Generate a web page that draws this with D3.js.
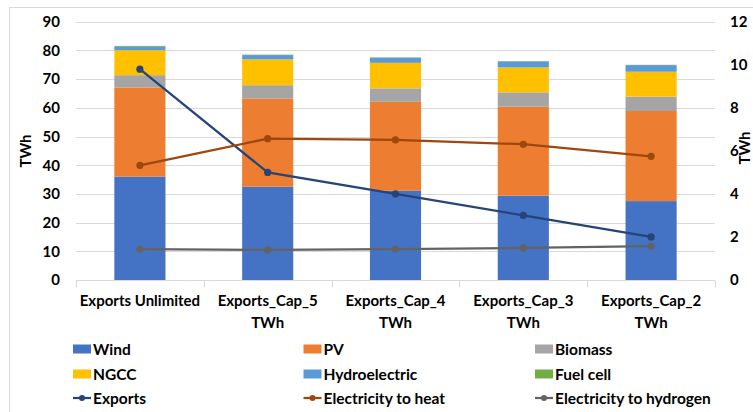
<!DOCTYPE html>
<html>
<head>
<meta charset="utf-8">
<script src="https://cdn.jsdelivr.net/npm/d3@7"></script>
<style>
  html, body { margin: 0; padding: 0; background: #fff; }
  svg { display: block; }
  text { font-family: Lato, "Open Sans", sans-serif; font-weight: bold; fill: #000; }
</style>
</head>
<body>
<svg id="chart" width="753" height="412"></svg>
<script>
// ---- Data ----
const categories = ["Exports Unlimited", "Exports_Cap_5 TWh", "Exports_Cap_4 TWh", "Exports_Cap_3 TWh", "Exports_Cap_2 TWh"];
const categoryLines = [["Exports Unlimited"], ["Exports_Cap_5", "TWh"], ["Exports_Cap_4", "TWh"], ["Exports_Cap_3", "TWh"], ["Exports_Cap_2", "TWh"]];

const wind = [36.0, 32.5, 31.1, 29.4, 27.5];
const pv = [31.1, 30.8, 31.0, 31.0, 31.4];
const biomass = [4.3, 4.6, 4.7, 5.0, 5.0];
const ngcc = [8.7, 9.0, 8.9, 8.7, 8.7];
const hydroelectric = [1.2, 1.5, 1.8, 2.1, 2.3];
const fuelCell = [0.3, 0.15, 0.1, 0.1, 0.1];

const exportsLine = [9.8, 5.0, 4.0, 3.0, 2.0];
const elecToHeat = [5.33, 6.57, 6.51, 6.31, 5.75];
const elecToHydrogen = [1.43, 1.40, 1.44, 1.49, 1.58];

const leftTicks = [0, 10, 20, 30, 40, 50, 60, 70, 80, 90];
const rightTicks = [0, 2, 4, 6, 8, 10, 12];

const barSeries = [
  { name: "Wind", values: wind, color: "#4472C4" },
  { name: "PV", values: pv, color: "#ED7D31" },
  { name: "Biomass", values: biomass, color: "#A5A5A5" },
  { name: "NGCC", values: ngcc, color: "#FFC000" },
  { name: "Hydroelectric", values: hydroelectric, color: "#5B9BD5" },
  { name: "Fuel cell", values: fuelCell, color: "#70AD47" }
];
const lineSeries = [
  { name: "Exports", values: exportsLine, color: "#264478" },
  { name: "Electricity to heat", values: elecToHeat, color: "#9E480E" },
  { name: "Electricity to hydrogen", values: elecToHydrogen, color: "#636363" }
];

// ---- Layout ----
const svg = d3.select("#chart");
const plot = { left: 76, right: 715, top: 21.8, bottom: 280 };

// chart border
svg.append("rect").attr("x", 9.5).attr("y", 7.5).attr("width", 900).attr("height", 600)
  .attr("fill", "none").attr("stroke", "#d9d9d9").attr("stroke-width", 1);

const x = d3.scaleBand().domain(categories).range([plot.left, plot.right]).paddingInner(0.6).paddingOuter(0.3);
const yL = d3.scaleLinear().domain([0, 90]).range([plot.bottom, plot.top]);
const yR = d3.scaleLinear().domain([0, 12]).range([plot.bottom, plot.top]);

// gridlines
svg.append("g").selectAll("line").data(leftTicks.filter(d => d > 0)).join("line")
  .attr("x1", plot.left).attr("x2", plot.right)
  .attr("y1", d => Math.round(yL(d)) + 0.5).attr("y2", d => Math.round(yL(d)) + 0.5)
  .attr("stroke", "#d9d9d9").attr("stroke-width", 1);

// stacked bars
const stackData = categories.map((c, i) => {
  const o = { cat: c };
  barSeries.forEach(s => o[s.name] = s.values[i]);
  return o;
});
const stack = d3.stack().keys(barSeries.map(s => s.name))(stackData);
const gBars = svg.append("g");
stack.forEach((layer, li) => {
  gBars.append("g").attr("fill", barSeries[li].color)
    .selectAll("rect").data(layer).join("rect")
    .attr("x", d => x(d.data.cat))
    .attr("width", x.bandwidth())
    .attr("y", d => yL(d[1]))
    .attr("height", d => yL(d[0]) - yL(d[1]));
});

// x axis
const xAxis = d3.axisBottom(x).tickSize(0).tickFormat("");
const gx = svg.append("g").attr("transform", `translate(0,${plot.bottom + 0.5})`).call(xAxis);
gx.select(".domain").attr("stroke", "#d9d9d9").attr("d", `M${plot.left},0H${plot.right}`);
const boundaries = d3.range(categories.length + 1).map(i => plot.left + i * x.step());
gx.selectAll(".bnd").data(boundaries).join("line").attr("class", "bnd")
  .attr("x1", d => Math.round(d) + 0.5).attr("x2", d => Math.round(d) + 0.5)
  .attr("y1", 0).attr("y2", 7).attr("stroke", "#d9d9d9");
categoryLines.forEach((lines, i) => {
  const t = svg.append("text").attr("text-anchor", "middle").attr("font-size", 15)
    .attr("x", x(categories[i]) + x.bandwidth() / 2);
  lines.forEach((ln, j) => {
    t.append("tspan").attr("x", x(categories[i]) + x.bandwidth() / 2).attr("y", 306 + j * 22).text(ln);
  });
});

// left axis
const gyL = svg.append("g").attr("transform", `translate(${plot.left},0)`)
  .call(d3.axisLeft(yL).tickValues(leftTicks).tickSize(0).tickPadding(16));
gyL.select(".domain").remove();
gyL.selectAll("text").attr("font-size", 15).attr("font-family", "Lato, sans-serif").attr("font-weight", "bold").attr("fill", "#000");

// right axis
const gyR = svg.append("g").attr("transform", `translate(${plot.right},0)`)
  .call(d3.axisRight(yR).tickValues(rightTicks).tickSize(0).tickPadding(15));
gyR.select(".domain").remove();
gyR.selectAll("text").attr("font-size", 15).attr("font-family", "Lato, sans-serif").attr("font-weight", "bold").attr("fill", "#000");

// axis titles
svg.append("text").attr("transform", "translate(31,151) rotate(-90)")
  .attr("text-anchor", "middle").attr("font-size", 15).text("TWh");
svg.append("text").attr("transform", "translate(750,148) rotate(-90)")
  .attr("text-anchor", "middle").attr("font-size", 15).text("TWh");

// lines
const cx = c => x(c) + x.bandwidth() / 2;
lineSeries.forEach(s => {
  const line = d3.line().x((d, i) => cx(categories[i])).y(d => yR(d));
  svg.append("path").datum(s.values).attr("d", line)
    .attr("fill", "none").attr("stroke", s.color).attr("stroke-width", 2.25);
  svg.append("g").selectAll("circle").data(s.values).join("circle")
    .attr("cx", (d, i) => cx(categories[i])).attr("cy", d => yR(d)).attr("r", 3.6)
    .attr("fill", s.color);
});

// legend
const legCols = [73, 303.5, 535];
const legRows = [349, 374, 398];
const legendItems = barSeries.map(s => ({ ...s, type: "bar" })).concat(lineSeries.map(s => ({ ...s, type: "line" })));
legendItems.forEach((it, i) => {
  const lx = legCols[i % 3], ly = legRows[Math.floor(i / 3)];
  const g = svg.append("g");
  if (it.type === "bar") {
    g.append("rect").attr("x", lx).attr("y", ly - 4.5).attr("width", 18).attr("height", 9).attr("fill", it.color);
  } else {
    g.append("line").attr("x1", lx).attr("x2", lx + 18).attr("y1", ly).attr("y2", ly)
      .attr("stroke", it.color).attr("stroke-width", 2.25);
    g.append("circle").attr("cx", lx + 9).attr("cy", ly).attr("r", 3).attr("fill", it.color);
  }
  g.append("text").attr("x", lx + 20).attr("y", ly + 5.5).attr("font-size", 15.5).text(it.name);
});
</script>
</body>
</html>
